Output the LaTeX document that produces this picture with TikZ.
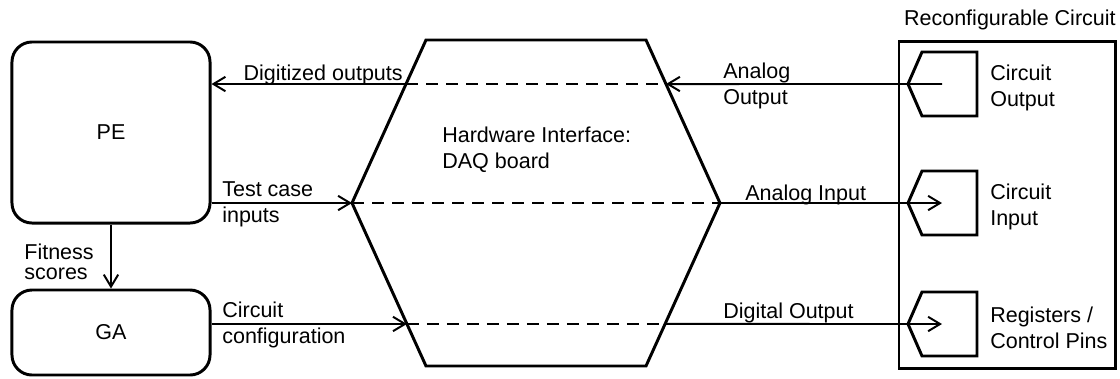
\documentclass[tikz,border=0pt]{standalone}
\usepackage{fontspec}
\setmainfont{Liberation Sans}
\usetikzlibrary{arrows.meta,calc}
\tikzset{
  blk/.style={draw,line width=2.1pt,rounded corners=0.5cm,minimum width=4.95cm},
  pinbox/.style={line width=2.1pt},
  arr/.style={->,line width=1.4pt},
  dsh/.style={line width=1.4pt,dash pattern=on 0.3cm off 0.2cm},
  lbl/.style={inner sep=0pt,align=left},
}
\begin{document}
\begin{tikzpicture}[x=0.025cm,y=-0.025cm,>={Straight Barb[length=3mm,width=3.6mm]},font=\fontsize{15.3}{18.5}\selectfont]
\useasboundingbox (0,0) rectangle (1120,378);
% left side: PE and GA
\node[blk,minimum height=4.525cm] (PE) at (111,132.5) {PE};
\node[blk,minimum height=2.125cm] (GA) at (111,332.5) {GA};
\draw[arr] (PE) -- (GA);
\node[lbl,anchor=east] (fit) at (94,262) {Fitness\\[-4.3pt]scores};
% DAQ board
\coordinate (h1) at (426,40);
\coordinate (h2) at (646,40);
\coordinate (hR) at (720,203);
\coordinate (h4) at (646,366);
\coordinate (h5) at (426,366);
\coordinate (hL) at (352,203);
\draw[line width=2.1pt] (h1)--(h2)--(hR)--(h4)--(h5)--(hL)--cycle;
\coordinate (d1L) at ($(h1)!0.27!(hL)$);
\coordinate (d1R) at ($(h2)!0.27!(hR)$);
\coordinate (c1L) at ($(hL)!0.742!(h5)$);
\coordinate (c1R) at ($(hR)!0.742!(h4)$);
\node[lbl,anchor=west] (hwi) at (442,150) {Hardware Interface:\\DAQ board};
% circuit with its pins
\node[draw,line width=2.1pt,minimum width=5.4cm,minimum height=8.15cm] (RC) at (1007,205) {};
\node[lbl,anchor=base east] (rctitle) at (1116,25) {Reconfigurable Circuit};
\foreach \y/\nm/\txt in {84/tipOut/{Circuit\\Output},203/tipIn/{Circuit\\Input},324/tipReg/{Registers /\\Control Pins}}{
  \draw[pinbox] (977,\y-32) -- (922,\y-32) -- (908,\y) -- (922,\y+32) -- (977,\y+32) -- cycle;
  \coordinate (\nm) at (942,\y);
  \node[lbl,anchor=west] (\nm txt) at (990,\y+4) {\txt};
}
% signals
\draw[dsh] (d1L) -- (d1R);
\draw[arr] (d1L) -- (PE.east |- d1L);
\draw[arr] (tipOut) -- (d1R);
\node[lbl,anchor=base east] (digi) at (403,80) {Digitized outputs};
\node[lbl,anchor=west] (aout) at (723,86) {Analog\\Output};

\draw[arr] (PE.east |- hL) -- (hL);
\draw[dsh] (hL) -- (hR);
\draw[arr] (hR) -- (tipIn);
\node[lbl,anchor=west] (tci) at (222,204) {Test case\\inputs};
\node[lbl,anchor=base west] (ain) at (745,200) {Analog Input};

\draw[arr] (GA.east |- c1L) -- (c1L);
\draw[dsh] (c1L) -- (c1R);
\draw[arr] (c1R) -- (tipReg);
\node[lbl,anchor=west] (cfg) at (222,325) {Circuit\\configuration};
\node[lbl,anchor=base west] (dout) at (723,318) {Digital Output};
\end{tikzpicture}
\end{document}
